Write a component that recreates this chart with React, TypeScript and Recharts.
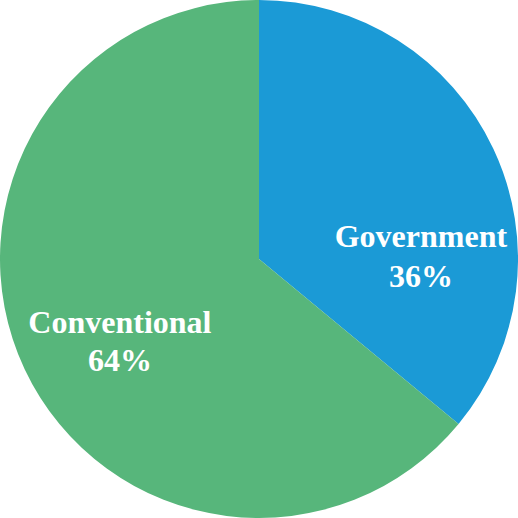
import React from 'react';
import { PieChart, Pie, Cell } from 'recharts';

const categories = ['Government', 'Conventional'];
const shares = [36, 64];
const colors = ['#1b9ad6', '#57b67b'];

const data = categories.map((name, i) => ({ name, value: shares[i] }));

// label anchor per slice, as fraction of radius from center (x, first baseline)
const labelSpot = [
  { dx: 0.625, dy: -0.046, gap: 40 },
  { dx: -0.537, dy: 0.286, gap: 38 },
];

const labelStyle: React.CSSProperties = {
  fontFamily: '"Liberation Serif", "Times New Roman", serif',
  fontWeight: 700,
  fontSize: 32,
  fill: '#ffffff',
};

function renderLabel(props: any) {
  const { cx, cy, outerRadius, index, name, value } = props;
  const spot = labelSpot[index];
  const x = cx + outerRadius * spot.dx;
  const y = cy + outerRadius * spot.dy;
  return (
    <g key={`lbl-${index}`}>
      <text x={x} y={y} textAnchor="middle" style={labelStyle}>{name}</text>
      <text x={x} y={y + spot.gap} textAnchor="middle" style={labelStyle}>{value}%</text>
    </g>
  );
}

export default function App() {
  return (
    <div style={{ position: 'absolute', left: 0, top: 0, width: 518, height: 518 }}>
      <PieChart width={518} height={518} margin={{ top: 0, right: 0, bottom: 0, left: 0 }}>
        <Pie
          data={data}
          dataKey="value"
          nameKey="name"
          cx={259}
          cy={259}
          outerRadius={259}
          startAngle={90}
          endAngle={-270}
          stroke="none"
          label={renderLabel}
          labelLine={false}
          isAnimationActive={false}
        >
          {data.map((d, i) => (
            <Cell key={d.name} fill={colors[i]} />
          ))}
        </Pie>
      </PieChart>
    </div>
  );
}
